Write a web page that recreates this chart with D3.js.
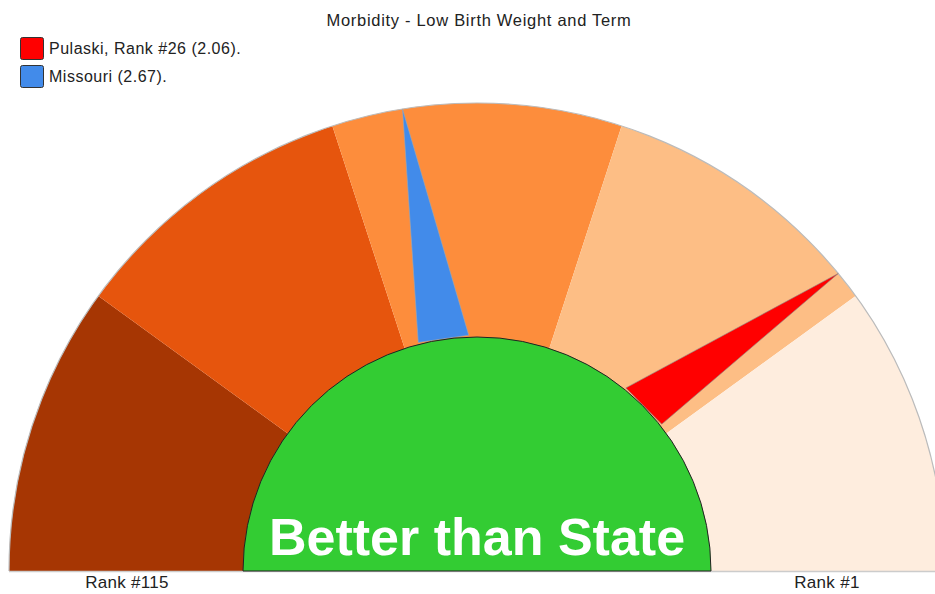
<!DOCTYPE html>
<html>
<head>
<meta charset="utf-8">
<script src="https://cdn.jsdelivr.net/npm/d3@7"></script>
<style>
  body { margin: 0; background: #fff; }
  svg { display: block; font-family: "Liberation Sans", Arial, sans-serif; }
</style>
</head>
<body>
<div id="chart"></div>
<script>
// Gauge data: ranks run from 115 (worst, left) to 1 (best, right)
const title = "Morbidity - Low Birth Weight and Term";
const rankMin = 115;
const rankMax = 1;
const bandBreaks = [115, 92.2, 69.4, 46.6, 23.8, 1];
const bandColors = ["#a63603", "#e6550d", "#fd8d3c", "#fdbe85", "#feedde"];

// Markers: tip rank and base-centre rank
const markerNames = ["Pulaski", "Missouri"];
const markerLabels = ["Pulaski, Rank #26 (2.06).", "Missouri (2.67)."];
const markerTip = [26, 63.8];
const markerBase = [29.3, 63.2];
const markerColors = ["#ff0000", "#428bea"];

const centreText = "Better than State";
const endLabels = ["Rank #115", "Rank #1"];

// Chart dimensions
const width = 935;
const height = 594;
const cx = 477;
const cy = 571;
const outerR = 468;
const innerR = 234;

const svg = d3.create("svg")
    .attr("width", width)
    .attr("height", height);

// rank -> angle (d3 convention, 0 = up, clockwise)
const angle = d3.scaleLinear()
    .domain([rankMin, rankMax])
    .range([-Math.PI / 2, Math.PI / 2]);

const g = svg.append("g").attr("transform", `translate(${cx},${cy})`);

// Bands
const arc = d3.arc().innerRadius(0).outerRadius(outerR);
const bands = d3.range(bandColors.length).map(i => ({
    startAngle: angle(bandBreaks[i]),
    endAngle: angle(bandBreaks[i + 1]),
    color: bandColors[i]
}));

g.selectAll("path.band")
    .data(bands)
    .join("path")
    .attr("class", "band")
    .attr("d", arc)
    .attr("fill", d => d.color);

// Outer outline
g.append("path")
    .attr("d", d3.arc().innerRadius(outerR).outerRadius(outerR)({startAngle: -Math.PI / 2, endAngle: Math.PI / 2}))
    .attr("fill", "none")
    .attr("stroke", "#bbb")
    .attr("stroke-width", 1.2);

g.append("line")
    .attr("x1", -outerR).attr("x2", outerR)
    .attr("y1", 0.5).attr("y2", 0.5)
    .attr("stroke", "#ccc")
    .attr("stroke-width", 1.5);

// Markers (needles)
const pt = (a, r) => [Math.sin(a) * r, -Math.cos(a) * r];
const halfBase = 6.2 * Math.PI / 180;
markerNames.forEach((name, i) => {
    const tip = pt(angle(markerTip[i]), outerR);
    const b = angle(markerBase[i]);
    const p1 = pt(b - halfBase, innerR + 2);
    const p2 = pt(b + halfBase, innerR + 2);
    g.append("path")
        .attr("d", d3.line()([tip, p1, p2]) + "Z")
        .attr("fill", markerColors[i])
        .attr("stroke", i === 0 ? "#888" : "#9ab")
        .attr("stroke-width", 0.6);
});

// Centre disc
g.append("path")
    .attr("d", d3.arc().innerRadius(0).outerRadius(innerR)({startAngle: -Math.PI / 2, endAngle: Math.PI / 2}))
    .attr("fill", "#33cc33")
    .attr("stroke", "#222")
    .attr("stroke-width", 1);

g.append("text")
    .attr("x", 0)
    .attr("y", -16)
    .attr("text-anchor", "middle")
    .attr("font-size", 52)
    .attr("font-weight", "bold")
    .attr("fill", "#fff")
    .text(centreText);

// End labels
const endX = d3.scaleLinear().domain([0, 1]).range([127, 827]);
svg.selectAll("text.end")
    .data(endLabels)
    .join("text")
    .attr("class", "end")
    .attr("x", (d, i) => endX(i))
    .attr("y", 588)
    .attr("text-anchor", "middle")
    .attr("font-size", 17)
    .attr("letter-spacing", 0.3)
    .attr("fill", "#222")
    .text(d => d);

// Title
svg.append("text")
    .attr("x", 479)
    .attr("y", 26)
    .attr("text-anchor", "middle")
    .attr("font-size", 16.5)
    .attr("letter-spacing", 0.7)
    .attr("fill", "#222")
    .text(title);

// Legend
const legend = svg.append("g").attr("transform", "translate(20,37)");
const item = legend.selectAll("g")
    .data(markerLabels)
    .join("g")
    .attr("transform", (d, i) => `translate(0,${i * 28})`);
item.append("rect")
    .attr("x", 0.5).attr("y", 0.5)
    .attr("width", 23).attr("height", 22)
    .attr("rx", 2)
    .attr("fill", (d, i) => markerColors[i])
    .attr("stroke", "#333")
    .attr("stroke-width", 1);
item.append("text")
    .attr("x", 29)
    .attr("y", 17)
    .attr("font-size", 16)
    .attr("letter-spacing", 0.5)
    .attr("fill", "#222")
    .text(d => d);

chart.append(svg.node());
</script>
</body>
</html>
